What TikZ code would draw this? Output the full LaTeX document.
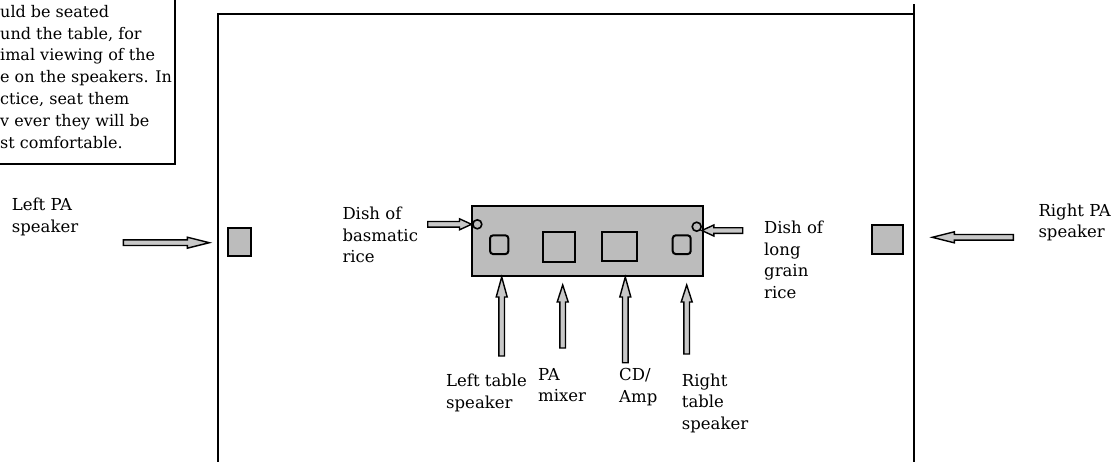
\documentclass[tikz,border=0pt]{standalone}
\usepackage{fontspec}
\setmainfont{DejaVu Serif}
\definecolor{stip}{RGB}{188,188,188}
\definecolor{arrfill}{RGB}{200,200,200}
\tikzset{
  lbl/.style={anchor=base west, align=left, inner sep=0pt, font=\fontsize{16.5}{21.7}\selectfont},
  wall/.style={line width=2pt, line cap=rect},
  part/.style={draw, line width=2pt, fill=stip, inner sep=0pt},
  blk/.style={draw, line width=1.4pt, fill=arrfill, line join=miter}
}
\newcommand\arrR[4]{% tail x, tip x, y, head length
  \draw[blk] (#1,{#3-2.8}) -- ({#2-#4},{#3-2.8}) -- ({#2-#4},{#3-5.5}) -- (#2,#3) -- ({#2-#4},{#3+5.5}) -- ({#2-#4},{#3+2.8}) -- (#1,{#3+2.8}) -- cycle;}
\newcommand\arrL[4]{% tail x, tip x, y, head length
  \draw[blk] (#1,{#3-2.8}) -- ({#2+#4},{#3-2.8}) -- ({#2+#4},{#3-5.5}) -- (#2,#3) -- ({#2+#4},{#3+5.5}) -- ({#2+#4},{#3+2.8}) -- (#1,{#3+2.8}) -- cycle;}
\newcommand\arrU[4]{% x, bottom y, tip y, head length
  \draw[blk] ({#1-2.8},#2) -- ({#1-2.8},{#3+#4}) -- ({#1-5.5},{#3+#4}) -- (#1,#3) -- ({#1+5.5},{#3+#4}) -- ({#1+2.8},{#3+#4}) -- ({#1+2.8},#2) -- cycle;}
\begin{document}
\begin{tikzpicture}[x=1pt,y=-1pt]
\useasboundingbox (0,0) rectangle (1115,461);
\clip (0,0) rectangle (1115,461);
\fill[white] (0,0) rectangle (1115,461);

% note box (cut off at left and top)
\draw[line width=2pt] (-10,-10) rectangle (174.5,163.5);
\node[lbl, font=\fontsize{16}{21.8}\selectfont] (note) at (0,148) {uld be seated\\und the table, for\\imal viewing of the\\e on the speakers. In\\ctice, seat them\\v ever they will be\\st comfortable.};

% room
\draw[wall] (218.3,475) -- (218.3,13.5) -- (914.3,13.5);
\draw[wall] (914.3,5) -- (914.3,475);

% speakers
\node[part, minimum width=23pt, minimum height=28.3pt] (lspk) at (239.2,241.9) {};
\node[part, minimum width=30.4pt, minimum height=29pt] (rspk) at (887.5,239.5) {};

% table
\node[part, minimum width=230.4pt, minimum height=70pt] (table) at (587.5,241) {};
\node[draw, line width=2pt, rounded corners=3pt, minimum width=18.3pt, minimum height=18.7pt, inner sep=0pt] (ltspk) at (499.2,244.7) {};
\node[draw, line width=2pt, rounded corners=3pt, minimum width=18pt, minimum height=18.7pt, inner sep=0pt] (rtspk) at (681.7,244.7) {};
\node[draw, line width=2pt, minimum width=32.3pt, minimum height=30.6pt, inner sep=0pt] (mixer) at (558.9,247) {};
\node[draw, line width=2pt, minimum width=34.7pt, minimum height=29.3pt, inner sep=0pt] (cdamp) at (619.4,246.7) {};
\node[part, circle, minimum size=9pt, line width=1.6pt] (dishl) at (477.3,224.3) {};
\node[part, circle, minimum size=9pt, line width=1.6pt] (dishr) at (696.7,226.7) {};

% arrows
\arrR{123.3}{209.3}{242.7}{22}
\arrL{1013.3}{932.3}{237.3}{22}
\arrR{427.7}{471.5}{224.3}{12}
\arrL{742.7}{701.8}{230.5}{12}
\arrU{501.7}{356}{277}{20}
\arrU{562.7}{348}{285}{17}
\arrU{625.3}{362.7}{277}{20}
\arrU{686.7}{354}{285}{17}

% labels (anchored at the baseline of their last line)
\node[lbl] (leftpa) at (11.7,232.4) {Left PA\\speaker};
\node[lbl] (rightpa) at (1038.3,237.7) {Right PA\\speaker};
\node[lbl] (dishltxt) at (342.3,262.7) {Dish of\\basmatic\\rice};
\node[lbl] (dishrtxt) at (764,298.4) {Dish of\\long\\grain\\rice};
\node[lbl] (ltstxt) at (446,408.4) {Left table\\speaker};
\node[lbl] (pamtxt) at (538,401.7) {PA\\mixer};
\node[lbl] (cdtxt) at (619,402.2) {CD/\\Amp};
\node[lbl] (rtstxt) at (681.7,429.4) {Right\\table\\speaker};
\end{tikzpicture}
\end{document}
